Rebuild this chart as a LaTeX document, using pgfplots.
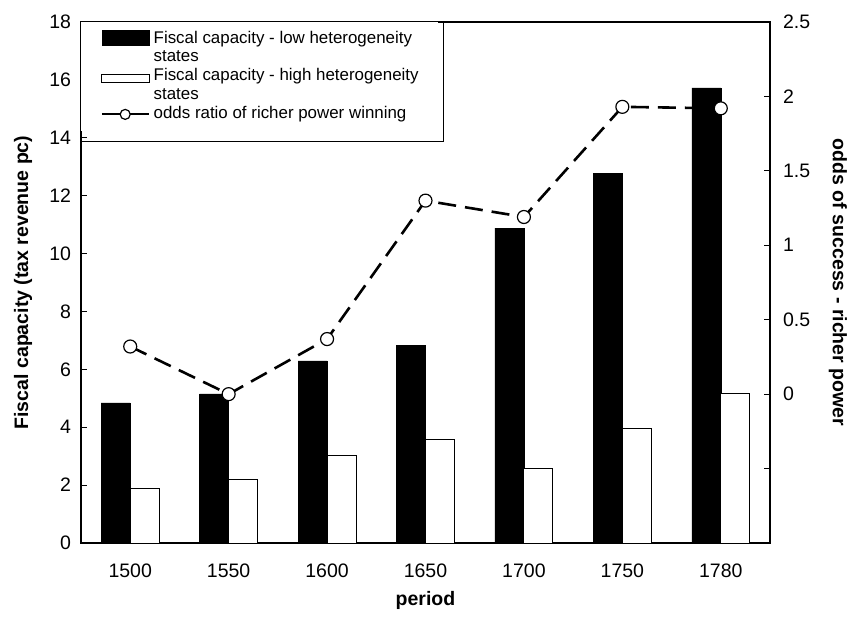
\documentclass[border=0pt]{standalone}
\usepackage{pgfplots}
\pgfplotsset{compat=1.18}
\usepackage{fontspec}
\setmainfont{Liberation Sans}
\begin{document}
\begin{tikzpicture}
\pgfplotsset{
  common/.style={
    width=689pt, height=521pt, scale only axis,
    xmin=-0.5, xmax=6.5,
    tick align=inside, major tick length=6pt,
    tick style={line width=1pt, black},
    axis line style={line width=1.3pt},
    /pgf/number format/assume math mode=true,
    ticklabel style={font=\fontsize{19.5}{22}\selectfont},
    label style={font=\fontsize{19.5}{22}\selectfont\bfseries},
  }
}
\begin{axis}[common, name=ax,
  ymin=0, ymax=18, ytick={0,2,...,18}, ytick pos=left,
  xtick={0,...,6}, xticklabels={1500,1550,1600,1650,1700,1750,1780},
  xtick style={draw=none},
  xticklabel style={yshift=-17.5pt},
  yticklabel style={xshift=-6.5pt},
  xlabel={period}, ylabel={Fiscal capacity (tax revenue pc)},
  xlabel style={at={(axis description cs:0.5,-0.1094)}, anchor=center},
  ylabel style={at={(axis description cs:-0.0842,0.5)}, anchor=center},
]
\addplot[ybar, bar width=29pt, bar shift=-14.5pt, fill=black, draw=black, line width=0.5pt]
  coordinates {(0,4.84) (1,5.15) (2,6.29) (3,6.84) (4,10.88) (5,12.78) (6,15.72)};
\addplot[ybar, bar width=29pt, bar shift=14.5pt, fill=white, draw=black, line width=1pt]
  coordinates {(0,1.88) (1,2.19) (2,3.02) (3,3.56) (4,2.59) (5,3.94) (6,5.15)};
\end{axis}
\begin{axis}[common,
  ymin=-1, ymax=2.5, axis y line*=right, axis x line=none,
  ytick={-0.5,0,0.5,1,1.5,2,2.5}, yticklabels={,0,0.5,1,1.5,2,2.5},
  yticklabel style={xshift=9.5pt},
  ylabel={odds of success - richer power},
  ylabel style={at={(axis description cs:1.0987,0.5)}, anchor=center, rotate=180},
  legend cell align=left,
  legend style={at={(0,1)}, anchor=north west, draw=none, fill=white,
    font=\fontsize{16.9}{18}\selectfont, inner xsep=19.7pt, inner ysep=7.6pt,
    row sep=0pt, column sep=3.5pt,
    nodes={inner sep=0pt, text height=13pt, text depth=5.7pt}},
]
\addlegendimage{legend image code/.code={\fill[black] (0pt,-5.4pt) rectangle (47.3pt,9.6pt);}}
\addlegendentry{Fiscal capacity - low heterogeneity}
\addlegendimage{empty legend}
\addlegendentry{states}
\addlegendimage{legend image code/.code={\draw[black, line width=1pt, fill=white] (0pt,-5.3pt) rectangle (47.3pt,2.1pt);}}
\addlegendentry{Fiscal capacity - high heterogeneity}
\addlegendimage{empty legend}
\addlegendentry{states}
\addplot[black, line width=2.6pt, dash pattern=on 18pt off 9pt,
  mark=*, mark size=6.5pt, mark options={solid, fill=white, draw=black, line width=1.2pt},
  legend image code/.code={\draw[solid, black, line width=2pt] (0pt,0pt) -- (47.3pt,0pt);
     \draw[solid, black, line width=1.2pt, fill=white] (23.3pt,0pt) circle (5pt);}]
  coordinates {(0,0.32) (1,0.0) (2,0.37) (3,1.30) (4,1.19) (5,1.93) (6,1.92)};
\addlegendentry{odds ratio of richer power winning}
\end{axis}
\draw[line width=1pt] (ax.north west) rectangle ([shift={(362pt,-119.5pt)}]ax.north west);
\pgfresetboundingbox
\path ([shift={(-81pt,-75pt)}]ax.south west) rectangle ([shift={(78pt,22pt)}]ax.north east);
\end{tikzpicture}
\end{document}
